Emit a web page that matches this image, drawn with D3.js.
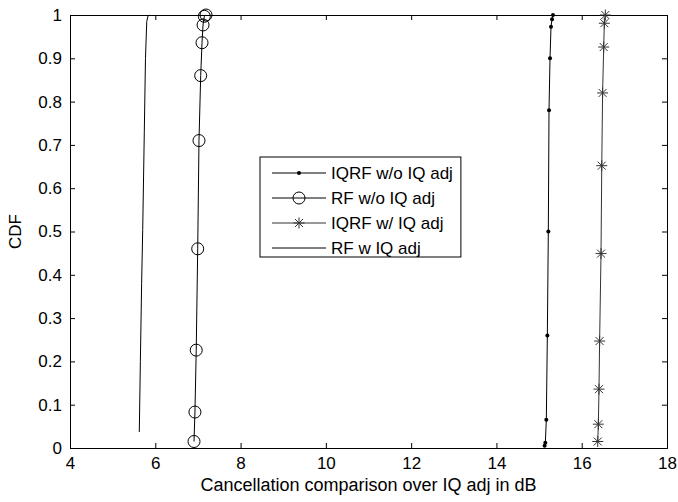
<!DOCTYPE html>
<html>
<head>
<meta charset="utf-8">
<script src="https://cdn.jsdelivr.net/npm/d3@7"></script>
<style>
body{margin:0;background:#fff;}
text{font-family:"Liberation Sans",Arial,sans-serif;}
</style>
</head>
<body>
<script>
// series data (x in dB, y = CDF)
var iqrfNoAdjX = [15.13,15.147,15.17,15.194,15.217,15.233,15.257,15.28,15.304,15.327];
var iqrfNoAdjY = [0.005,0.012,0.065,0.26,0.5,0.78,0.9,0.973,0.99,1.0];

var rfNoAdjX = [6.908,6.93,6.96,6.995,7.025,7.065,7.096,7.12,7.15,7.19];
var rfNoAdjY = [0.015,0.083,0.226,0.46,0.71,0.86,0.936,0.977,0.997,1.0];

var iqrfAdjX = [16.376,16.39,16.405,16.42,16.453,16.47,16.49,16.516,16.53,16.554];
var iqrfAdjY = [0.015,0.055,0.136,0.247,0.449,0.652,0.82,0.926,0.981,1.0];

var rfAdjX = [5.625,5.65,5.68,5.705,5.742,5.77,5.8,5.83,5.86];
var rfAdjY = [0.037,0.2,0.38,0.505,0.728,0.9,0.985,0.998,1.0];

var seriesNames = ["IQRF w/o IQ adj","RF w/o IQ adj","IQRF w/ IQ adj","RF w IQ adj"];
var xTicks = [4,6,8,10,12,14,16,18];
var yTicks = [0,0.1,0.2,0.3,0.4,0.5,0.6,0.7,0.8,0.9,1];

var W = 678, H = 502, FS = 17;
var margin = {left:70, right:11, top:15, bottom:54};
var pw = W - margin.left - margin.right, ph = H - margin.top - margin.bottom;

var svg = d3.select("body").append("svg").attr("width",W).attr("height",H);
var g = svg.append("g").attr("transform","translate("+margin.left+","+margin.top+")");

var x = d3.scaleLinear().domain([4,18]).range([0,pw]);
var y = d3.scaleLinear().domain([0,1]).range([ph,0]);

// axes (ticks pointing inward, MATLAB style box)
var fmtY = function(d){ return d3.format("~g")(d); };
g.append("g").attr("transform","translate(0,"+ph+")")
  .call(d3.axisBottom(x).tickValues(xTicks).tickSize(-5).tickPadding(9).tickFormat(d3.format("d")));
g.append("g").call(d3.axisLeft(y).tickValues(yTicks).tickSize(-5).tickPadding(8).tickFormat(fmtY));
g.append("g").call(d3.axisTop(x).tickValues(xTicks).tickSize(-5).tickFormat(""));
g.append("g").attr("transform","translate("+pw+",0)")
  .call(d3.axisRight(y).tickValues(yTicks).tickSize(-5).tickFormat(""));
g.selectAll(".domain").attr("stroke","#000").attr("stroke-width",1);
g.selectAll(".tick line").attr("stroke","#000");
g.selectAll(".tick text").attr("font-size",FS).attr("fill","#000")
  .style("font-family","'Liberation Sans',Arial,sans-serif");

var line = d3.line().x(function(d){return x(d[0]);}).y(function(d){return y(d[1]);});

function zip(a,b){ return a.map(function(v,i){return [v,b[i]];}); }

var series = [
  {name:seriesNames[0], pts:zip(iqrfNoAdjX,iqrfNoAdjY), marker:"dot", color:"#000"},
  {name:seriesNames[1], pts:zip(rfNoAdjX,rfNoAdjY), marker:"circle", color:"#000"},
  {name:seriesNames[2], pts:zip(iqrfAdjX,iqrfAdjY), marker:"star", color:"#333"},
  {name:seriesNames[3], pts:zip(rfAdjX,rfAdjY), marker:"none", color:"#000"}
];

function drawMarker(sel, type, color){
  if(type=="dot"){
    sel.append("circle").attr("r",2).attr("fill",color);
  } else if(type=="circle"){
    sel.append("circle").attr("r",6).attr("fill","none").attr("stroke",color).attr("stroke-width",1);
  } else if(type=="star"){
    var s = 5.5, d = 4;
    sel.append("path")
      .attr("d","M"+(-s)+",0L"+s+",0M0,"+(-s)+"L0,"+s+"M"+(-d)+","+(-d)+"L"+d+","+d+"M"+(-d)+","+d+"L"+d+","+(-d))
      .attr("stroke",color).attr("stroke-width",1).attr("fill","none");
  }
}

series.forEach(function(s){
  g.append("path").datum(s.pts).attr("d",line)
    .attr("fill","none").attr("stroke",s.color).attr("stroke-width",1);
  if(s.marker!="none"){
    g.selectAll(null).data(s.pts).enter().append("g")
      .attr("transform",function(d){return "translate("+x(d[0])+","+y(d[1])+")";})
      .each(function(){ drawMarker(d3.select(this), s.marker, s.color); });
  }
});

// axis labels
svg.append("text").attr("x",margin.left+pw/2).attr("y",491)
  .attr("text-anchor","middle").attr("font-size",FS+1).text("Cancellation comparison over IQ adj in dB");
svg.append("text").attr("transform","translate(21,"+(margin.top+ph/2)+") rotate(-90)")
  .attr("text-anchor","middle").attr("font-size",FS).text("CDF");

// legend
var lg = svg.append("g").attr("transform","translate(260,157)");
var box = lg.append("rect").attr("height",100)
  .attr("fill","#fff").attr("stroke","#000").attr("stroke-width",1);
var rowY = [16,41,66,91];
var maxW = 0;
series.forEach(function(s,i){
  var r = lg.append("g").attr("transform","translate(0,"+rowY[i]+")");
  r.append("line").attr("x1",12).attr("x2",66).attr("y1",0).attr("y2",0)
    .attr("stroke",s.color).attr("stroke-width",1);
  if(s.marker!="none"){
    var m = r.append("g").attr("transform","translate(39,0)");
    drawMarker(m, s.marker, s.color);
  }
  var t = r.append("text").attr("x",71).attr("y",6).attr("font-size",FS).text(s.name);
  maxW = Math.max(maxW, t.node().getComputedTextLength());
});
box.attr("width",71+maxW+8);
</script>
</body>
</html>
